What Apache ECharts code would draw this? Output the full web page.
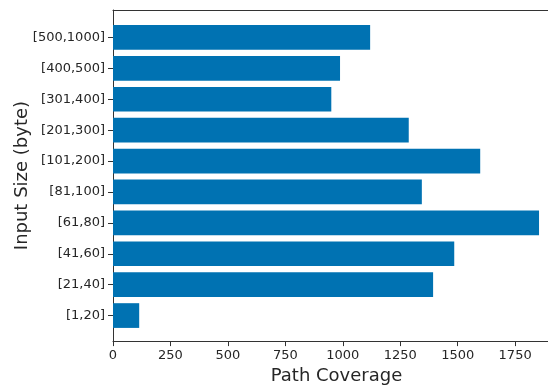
<!DOCTYPE html>
<html>
<head>
<meta charset="utf-8">
<script src="https://cdn.jsdelivr.net/npm/echarts@6/dist/echarts.min.js"></script>
<style>
  html, body { margin: 0; padding: 0; background: #fff; }
  #chart { width: 548px; height: 390px; }
</style>
</head>
<body>
<div id="chart"></div>
<script>
// Input-size buckets (bottom to top) and the path coverage reached in each
const sizeBuckets = ['[1,20]', '[21,40]', '[41,60]', '[61,80]', '[81,100]',
                     '[101,200]', '[201,300]', '[301,400]', '[400,500]', '[500,1000]'];
const pathCoverage = [114, 1393, 1485, 1854, 1344, 1598, 1287, 950, 988, 1119];
const coverageTicks = [0, 250, 500, 750, 1000, 1250, 1500, 1750];

const xMax = 1893;          // visible end of the coverage axis
const textColor = '#262626';
const spineColor = '#333333';
const font = 'DejaVu Sans';

const chart = echarts.init(document.getElementById('chart'), null, { renderer: 'canvas' });

chart.setOption({
  animation: false,
  backgroundColor: '#ffffff',
  grid: [
    // frame: spines, x ticks and axis titles
    { left: 113, right: 0, top: 10, bottom: 47 },
    // bars, inset so the outer bars keep a margin from the frame
    { left: 113, right: 0, top: 22, bottom: 59 }
  ],
  xAxis: [
    {
      gridIndex: 0, type: 'value', position: 'bottom',
      min: 0, max: xMax,
      axisLine: { show: true, lineStyle: { color: spineColor, width: 1 } },
      axisTick: { show: true, length: 5, lineStyle: { color: spineColor }, customValues: coverageTicks },
      axisLabel: {
        color: textColor, fontFamily: font, fontSize: 13, margin: 8,
        customValues: coverageTicks,
        formatter: v => String(v)
      },
      splitLine: { show: false },
      name: 'Path Coverage', nameLocation: 'middle', nameGap: 22,
      nameTextStyle: { color: textColor, fontFamily: font, fontSize: 18, padding: [0, 0, 0, 12] }
    },
    {
      gridIndex: 0, type: 'value', position: 'top',
      min: 0, max: xMax,
      axisLine: { show: true, lineStyle: { color: spineColor, width: 1 } },
      axisTick: { show: false }, axisLabel: { show: false }, splitLine: { show: false }
    },
    {
      gridIndex: 1, type: 'value', min: 0, max: xMax, show: false
    }
  ],
  yAxis: [
    {
      gridIndex: 0, type: 'value', min: 0, max: 1,
      axisLine: { show: true, lineStyle: { color: spineColor, width: 1 } },
      axisTick: { show: false }, axisLabel: { show: false }, splitLine: { show: false },
      name: 'Input Size (byte)', nameLocation: 'middle', nameGap: 82,
      nameTextStyle: { color: textColor, fontFamily: font, fontSize: 18 }
    },
    {
      gridIndex: 1, type: 'category', data: sizeBuckets,
      axisLine: { show: false },
      axisTick: { show: true, alignWithLabel: true, length: 5, lineStyle: { color: spineColor } },
      axisLabel: { color: textColor, fontFamily: font, fontSize: 13, margin: 8 },
      splitLine: { show: false }
    }
  ],
  series: [{
    type: 'bar',
    xAxisIndex: 2,
    yAxisIndex: 1,
    data: pathCoverage,
    barCategoryGap: '20%',
    itemStyle: { color: '#0072B2' },
    silent: true
  }]
});
</script>
</body>
</html>
